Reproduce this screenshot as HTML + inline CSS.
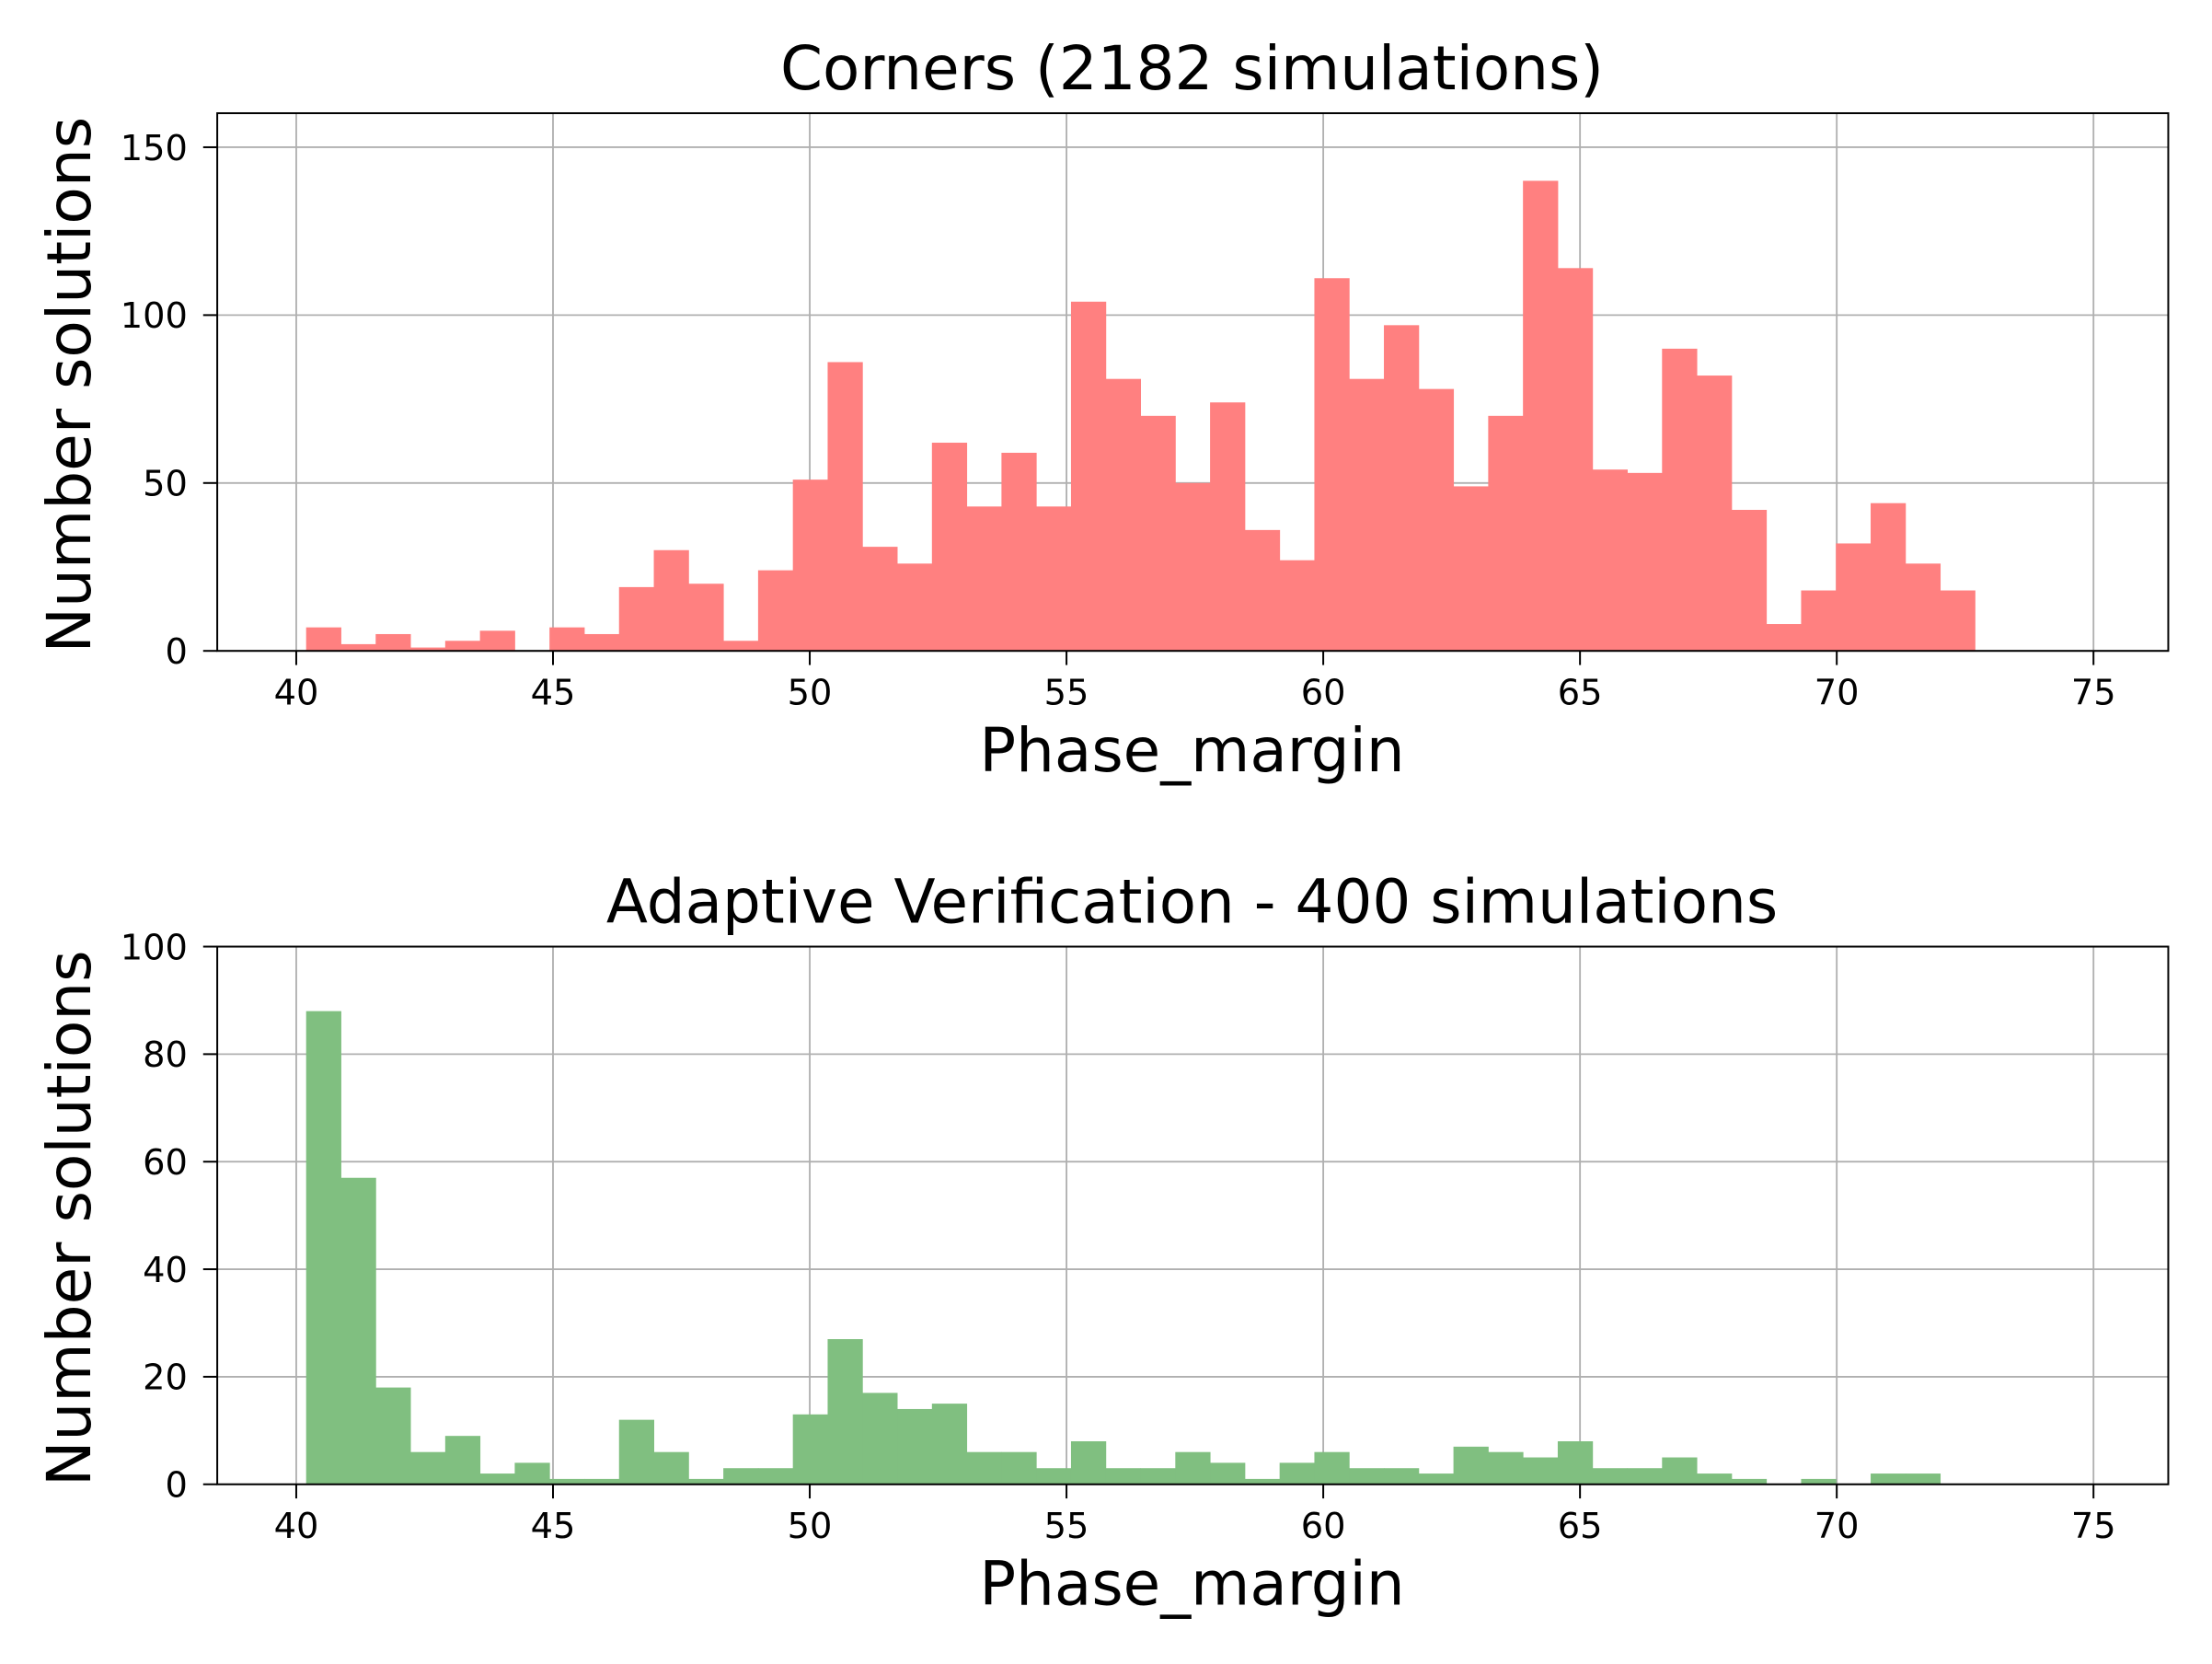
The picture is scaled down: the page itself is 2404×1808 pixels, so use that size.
<!DOCTYPE html>
<html><head><meta charset="utf-8"><style>
html,body{margin:0;padding:0;background:#fff}
svg{display:block}
text{font-family:"DejaVu Sans","Liberation Sans",sans-serif;fill:#000}
</style></head><body>
<svg id="s" width="2404" height="1808" viewBox="0 0 1568 1176" preserveAspectRatio="none" xmlns="http://www.w3.org/2000/svg"></svg>
<script>
const s=document.getElementById('s');
let h='';
const X0=210,PX=36.4,W=24.645,BS=217;
function panel(top,bot,yunit,ticks,data,color,title){
  let g='';
  for(const v of ticks){const y=bot-v*yunit;g+=`<line x1="154" y1="${y}" x2="1537" y2="${y}" stroke="#b0b0b0" stroke-width="1.2"/><line x1="144" y1="${y}" x2="154" y2="${y}" stroke="#000" stroke-width="1.3"/><text x="133" y="${y+9}" font-size="25" text-anchor="end">${v}</text>`;}
  for(let v=40;v<=75;v+=5){const x=X0+(v-40)*PX;g+=`<line x1="${x}" y1="${top}" x2="${x}" y2="${bot}" stroke="#b0b0b0" stroke-width="1.2"/>`;
    g+=`<line x1="${x}" y1="${bot}" x2="${x}" y2="${bot+10}" stroke="#000" stroke-width="1.3"/><text x="${x}" y="${bot+38}" font-size="25" text-anchor="middle">${v}</text>`;}
  data.forEach((v,i)=>{if(v>0){const x=BS+i*W;g+=`<rect x="${x}" y="${bot-v*yunit}" width="${W+0.3}" height="${v*yunit}" fill="${color}"/>`;}});
  g+=`<rect x="154" y="${top}" width="1383" height="${bot-top}" fill="none" stroke="#000" stroke-width="1.3"/>`;
  g+=`<text x="845" y="${top-17}" font-size="43" text-anchor="middle">${title}</text>`;
  g+=`<text x="845" y="${bot+85}" font-size="43" text-anchor="middle">Phase_margin</text>`;
  g+=`<text transform="translate(64,${(top+bot)/2+2}) rotate(-90)" font-size="43" text-anchor="middle">Number solutions</text>`;
  return g;
}
const d1=[7,2,5,1,3,6,0,7,5,19,30,20,3,24,51,86,31,26,62,43,59,43,104,81,70,50,74,36,27,111,81,97,78,49,70,140,114,54,53,90,82,42,8,18,32,44,26,18];
const d2=[88,57,18,6,9,2,4,1,1,12,6,1,3,3,13,27,17,14,15,6,6,3,8,3,3,6,4,1,4,6,3,3,2,7,6,5,8,3,3,5,2,1,0,1,0,2,2];
h+=panel(80,460,2.373,[0,50,100,150],d1,"#ff8080","Corners (2182 simulations)");
h+=panel(669,1049,3.8,[0,20,40,60,80,100],d2,"#80bf80","Adaptive Verification - 400 simulations");
s.innerHTML=h;
</script>
</body></html>
